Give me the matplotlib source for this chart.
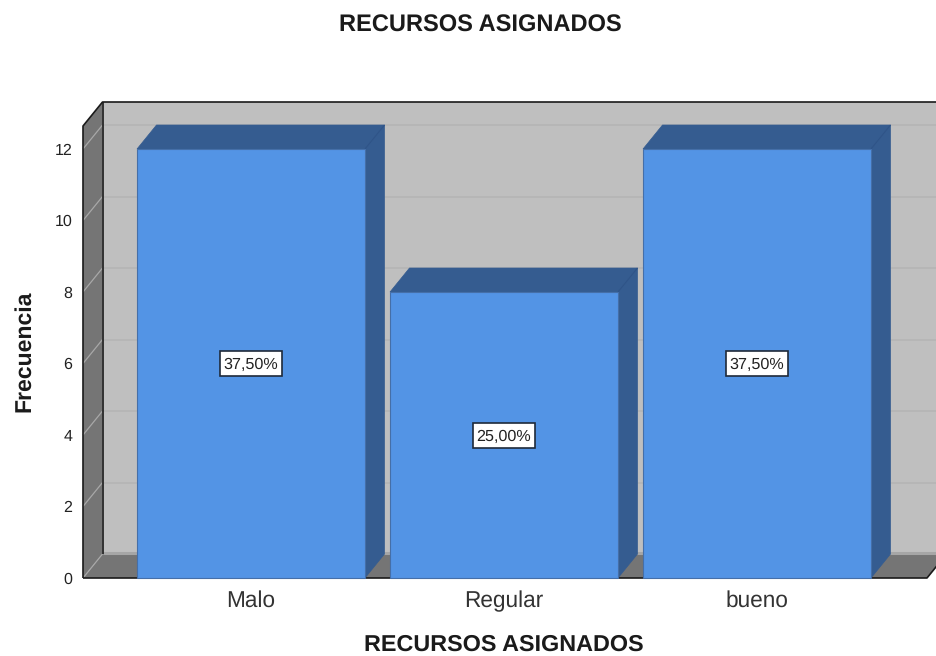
import matplotlib
matplotlib.use("Agg")
import matplotlib.pyplot as plt
from matplotlib.patches import Polygon, Rectangle

categories = ["Malo", "Regular", "bueno"]
values = [12, 8, 12]
pct_labels = ["37,50%", "25,00%", "37,50%"]
y_ticks = [0, 2, 4, 6, 8, 10, 12]
title = "RECURSOS ASIGNADOS"
y_label = "Frecuencia"

plt.rcParams["font.family"] = ["Liberation Sans", "DejaVu Sans"]
plt.rcParams["text.hinting"] = "no_hinting"
W, H = 937, 656
fig = plt.figure(figsize=(W / 100, H / 100), dpi=100)

# front plane of the 3D box, in pixels
L, R, B, T = 83, 927, 578, 126
ax = fig.add_axes([L / W, 1 - B / H, (R - L) / W, (B - T) / H])
px_x = 253.0
px_y = (578 - 149) / 12
x0 = (L - 251) / px_x
x1 = x0 + (R - L) / px_x
y1 = (B - T) / px_y
ax.set_xlim(x0, x1)
ax.set_ylim(0, y1)
dx = 19.5 / px_x
dy = 24 / px_y
bw = 228 / px_x
box_w = 62 / px_x
box_h = 25 / px_y

WALL = "#bfbfbf"
SIDE = "#757575"
BAR = "#5394e5"
DARK = "#355c90"
EDGE = "#2f5488"


def poly(pts, fc, ec="none", lw=0, z=1):
    ax.add_patch(Polygon(pts, closed=True, fc=fc, ec=ec, lw=lw, zorder=z, clip_on=False))


def line(xs, ys, c, lw=1, z=2):
    ax.plot(xs, ys, color=c, lw=lw, zorder=z, clip_on=False, solid_capstyle="butt")


# walls
poly([(x0 + dx, dy), (x1 + dx + 0.1, dy), (x1 + dx + 0.1, y1 + dy), (x0 + dx, y1 + dy)], WALL)
poly([(x0, 0), (x0 + dx, dy), (x0 + dx, y1 + dy), (x0, y1)], SIDE)
poly([(x0, 0), (x1, 0), (x1 + dx, dy), (x0 + dx, dy)], SIDE)
line([x0 + dx, x1 + dx + 0.1], [dy + 0.03] * 2, "#a6a6a6", 2.2, 1.5)

# gridlines
for v in y_ticks[1:]:
    line([x0 + dx, x1 + dx + 0.1], [v + dy] * 2, "#b4b4b4", 1.1)
    line([x0, x0 + dx], [v, v + dy], "#a8a8a8", 0.9)
line([x0, x0 + dx], [0, dy], "#a8a8a8", 0.9)

# box outline
line([x0, x0, x0 + dx, x1 + dx + 0.1], [0, y1, y1 + dy, y1 + dy], "#1a1a1a", 1.2, 3)
line([x0 + dx, x0 + dx], [dy, y1 + dy], "#1a1a1a", 1.2, 3)
line([x0, x1, x1 + dx], [0, 0, dy], "#1a1a1a", 1.2, 3)

# bars
for i, v in enumerate(values):
    xl, xr = i - bw / 2, i + bw / 2
    poly([(xr, 0), (xr + dx, dy), (xr + dx, v + dy), (xr, v)], DARK, DARK, 0.5, 4)
    poly([(xl, v), (xr, v), (xr + dx, v + dy), (xl + dx, v + dy)], DARK, DARK, 0.5, 4)
    line([xr, xr + dx], [v, v + dy], EDGE, 0.8, 4.5)
    ax.bar(i, v, width=bw, color=BAR, edgecolor="#456fa8", linewidth=0.8, zorder=5, clip_on=False)
    ax.add_patch(Rectangle((i - box_w / 2, v / 2 - box_h / 2), box_w, box_h, fc="white",
                           ec="#1f2a3a", lw=1.2, zorder=6))
    ax.text(i, v / 2, pct_labels[i], ha="center", va="center_baseline", fontsize=11.6,
            color="#222222", zorder=7)

ax.set_xticks(range(len(categories)), categories)
ax.set_yticks(y_ticks)
ax.tick_params(axis="x", length=0, pad=9, labelsize=16.3, labelcolor="#333333")
ax.tick_params(axis="y", length=0, pad=7.5, labelsize=11.5, labelcolor="#222222")
for s in ax.spines.values():
    s.set_visible(False)
ax.set_facecolor("none")

fig.text(480.5 / W, 1 - 32 / H, title, ha="center", va="baseline", fontsize=17, fontweight="bold", color="#1a1a1a")
fig.text(504 / W, 1 - 650.5 / H, title, ha="center", va="baseline", fontsize=16.8, fontweight="bold", color="#1a1a1a")
fig.text(24 / W, 1 - 351 / H, y_label, rotation=90, ha="center", va="center", fontsize=16.6, fontweight="bold", color="#1a1a1a")

fig.savefig("out.png", dpi=100, facecolor="white")
